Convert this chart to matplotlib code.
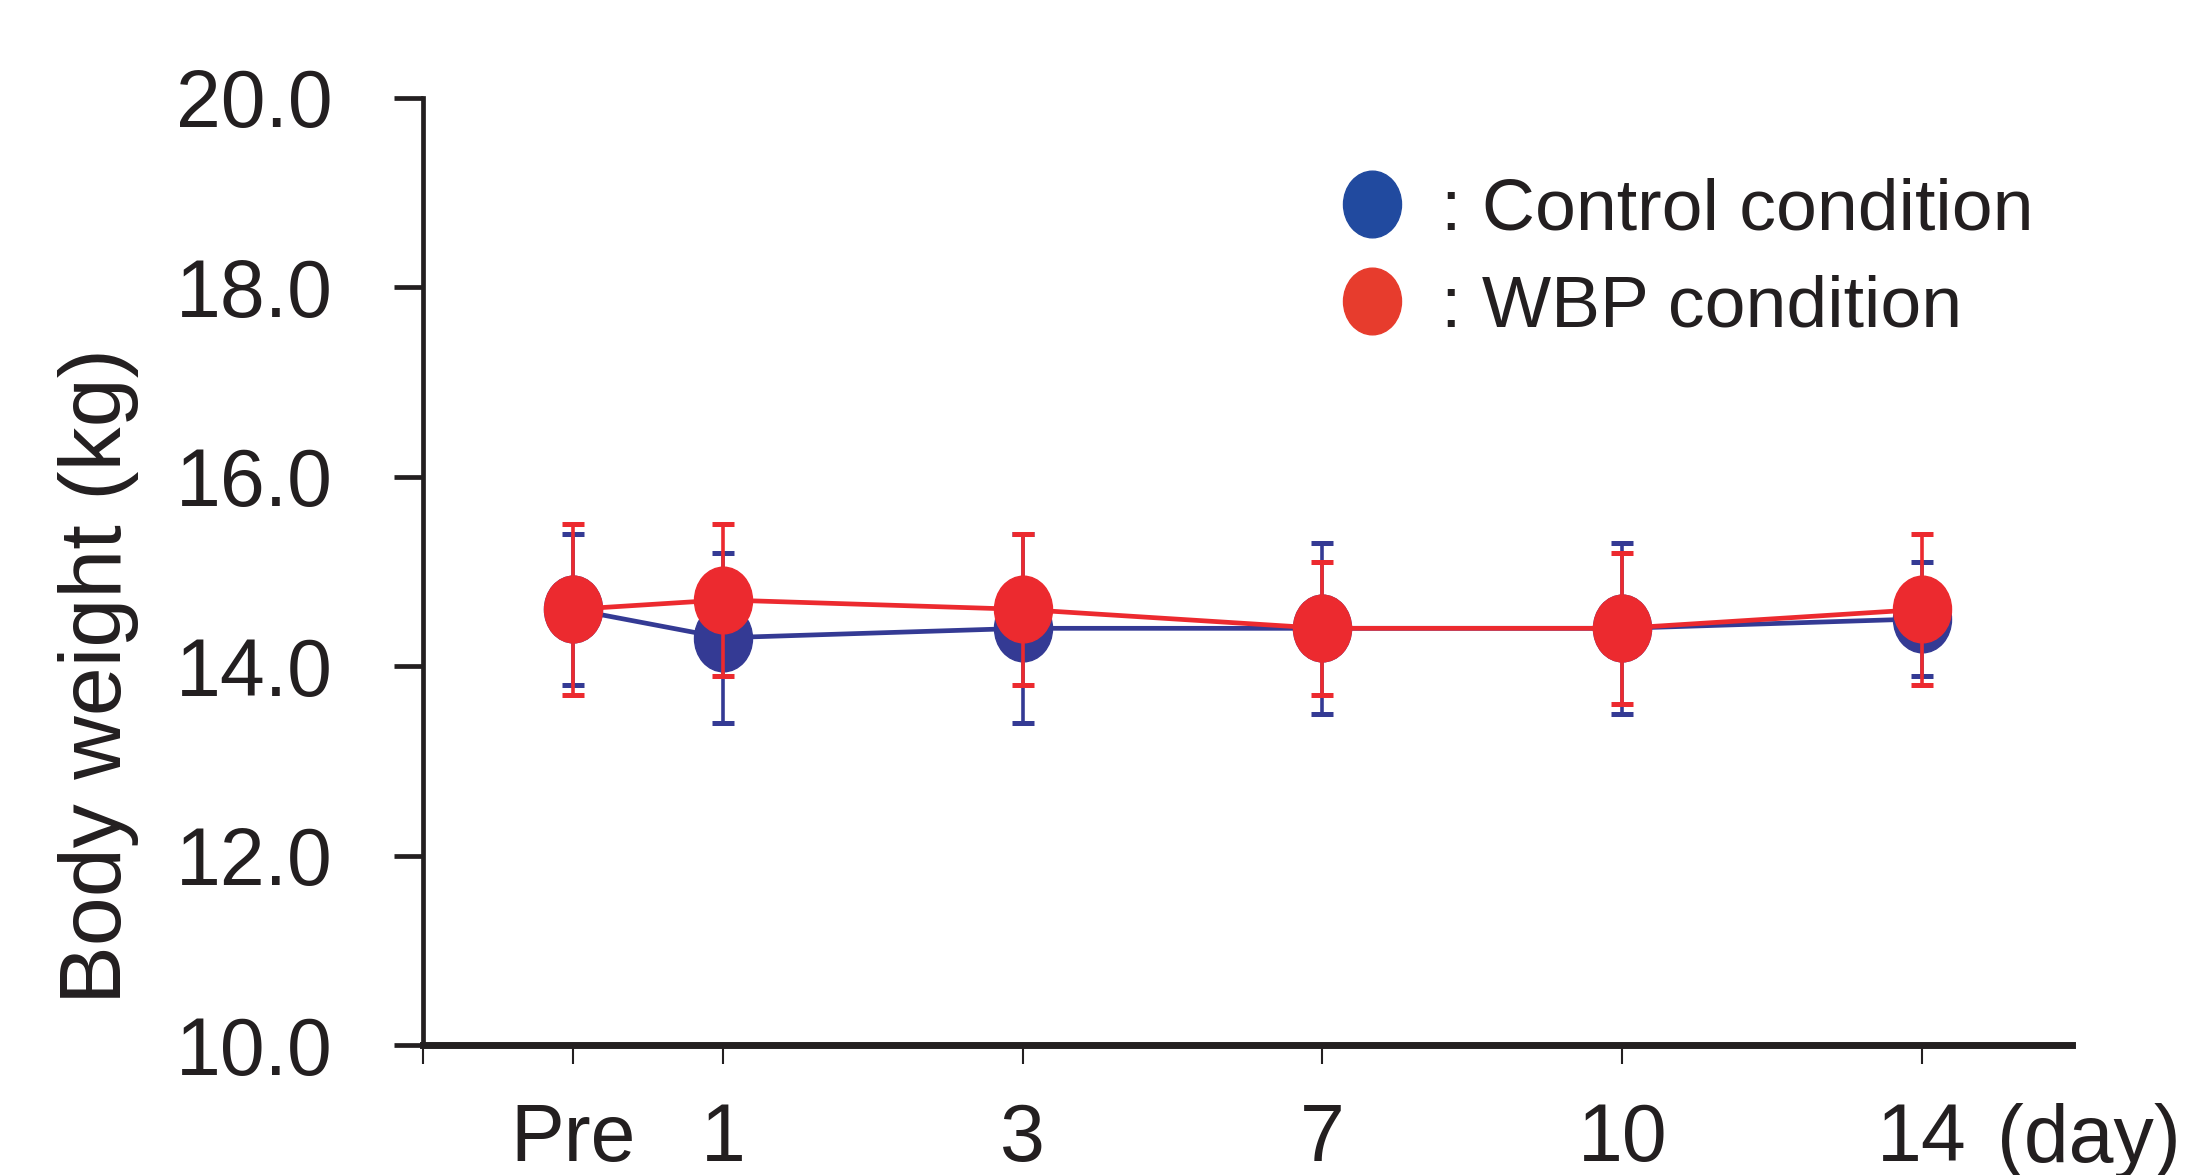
import matplotlib
matplotlib.use('Agg')
import matplotlib.pyplot as plt
import numpy as np
from matplotlib import font_manager
from matplotlib.path import Path
from matplotlib.lines import Line2D

# 폰트: 좁은 글꼴 있으면 그걸로
try:
    font_manager.findfont(font_manager.FontProperties(family='Liberation Sans Narrow'), fallback_to_default=False)
    font_name = 'Liberation Sans Narrow'
    k = 1.0
except Exception:
    font_name = 'Liberation Sans'
    k = 0.88
plt.rcParams['font.family'] = [font_name, 'DejaVu Sans']

days = ['Pre', '1', '3', '7', '10', '14']
x_pos = [0, 1, 3, 5, 7, 9]

control_mean = [14.6, 14.3, 14.4, 14.4, 14.4, 14.5]
control_err = [0.8, 0.9, 1.0, 0.9, 0.9, 0.6]
wbp_mean = [14.6, 14.7, 14.6, 14.4, 14.4, 14.6]
wbp_err = [0.9, 0.8, 0.8, 0.7, 0.8, 0.8]

blue = '#343a94'
red = '#ec2a2f'
txt = '#231f20'

# 세로로 긴 타원 마커
circ = Path.unit_circle()
ellipse = Path(circ.vertices * np.array([0.87, 1.0]), circ.codes)

fig = plt.figure(figsize=(21.87, 11.75), dpi=100)
ax = fig.add_axes([423/2187, 1-1045/1175, (2072-423)/2187, (1045-98)/1175])

ax.errorbar(x_pos, control_mean, yerr=control_err, color=blue, lw=3.4, marker=ellipse, ms=48,
            elinewidth=2.6, capsize=8, capthick=3.6, zorder=2)
ax.errorbar(x_pos, wbp_mean, yerr=wbp_err, color=red, lw=3.4, marker=ellipse, ms=48,
            elinewidth=2.6, capsize=8, capthick=3.6, zorder=3)

ax.set_xlim(-1, 10)
ax.set_ylim(10, 20)
ax.set_yticks([10, 12, 14, 16, 18, 20])
ax.set_yticklabels(['10.0', '12.0', '14.0', '16.0', '18.0', '20.0'])
ax.set_xticks([-1] + x_pos)
ax.set_xticklabels([''] + days)

for s in ['top', 'right']:
    ax.spines[s].set_visible(False)
ax.spines['left'].set_linewidth(3.4)
ax.spines['bottom'].set_linewidth(5)
ax.spines['left'].set_color(txt)
ax.spines['bottom'].set_color(txt)

ax.tick_params(axis='y', length=21, width=3.4, pad=44, labelsize=66 * k, colors=txt)
ax.tick_params(axis='x', length=14, width=1.5, pad=27, labelsize=66 * k, colors=txt)

ax.set_ylabel('Body weight (kg)', fontsize=72 * k, color=txt, labelpad=0)
ax.yaxis.set_label_coords(-0.1725, 0.39)

fig.text(1997/2187, 1-1162/1175, '(day)', fontsize=66 * k, color=txt, va='baseline', ha='left')

handles = [Line2D([], [], ls='none', marker=ellipse, ms=48, color='#214a9f'),
           Line2D([], [], ls='none', marker=ellipse, ms=48, color='#e73c2d')]
ax.legend(handles, [': Control condition', ': WBP condition'], loc='upper left',
          bbox_to_anchor=(1335/2187, 1-178/1175), bbox_transform=fig.transFigure,
          frameon=False, fontsize=60 * k, handlelength=1.0, handletextpad=0.44,
          labelspacing=0.4, borderpad=0, borderaxespad=0, labelcolor=txt)

fig.savefig('out.png', dpi=100)
